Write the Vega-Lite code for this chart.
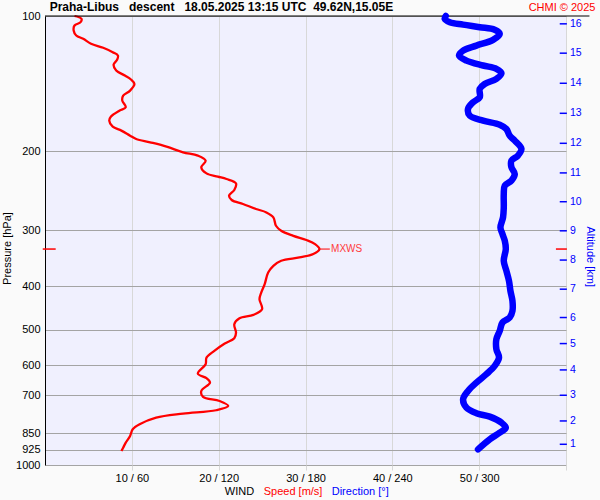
{
  "$schema": "https://vega.github.io/schema/vega-lite/v6.json",
  "width": 521,
  "height": 449,
  "autosize": {"type": "none"},
  "padding": {"left": 45, "top": 16, "right": 34, "bottom": 35},
  "background": "#fafafa",
  "config": {
    "view": {"fill": "#f0f0fe", "stroke": null},
    "font": "Liberation Sans",
    "text": {"font": "Liberation Sans"}
  },
  "datasets": {
    "speed": [
      {"p":100.0,"s":3.4},{"p":101.4,"s":4.2},{"p":103.2,"s":4.1},{"p":105.0,"s":3.4},{"p":107.7,"s":3.3},{"p":110.5,"s":3.6},{"p":112.4,"s":4.4},{"p":115.3,"s":5.3},{"p":117.7,"s":6.7},{"p":120.4,"s":7.8},{"p":122.5,"s":8.4},{"p":125.2,"s":8.3},{"p":128.3,"s":7.9},{"p":132.3,"s":8.2},{"p":135.7,"s":9.2},{"p":138.5,"s":9.9},{"p":141.7,"s":10.3},{"p":146.6,"s":9.8},{"p":150.4,"s":9.0},{"p":154.3,"s":8.9},{"p":159.7,"s":9.3},{"p":162.4,"s":8.6},{"p":167.5,"s":7.6},{"p":171.0,"s":7.4},{"p":176.4,"s":7.8},{"p":180.0,"s":8.8},{"p":184.7,"s":9.8},{"p":187.9,"s":10.5},{"p":191.1,"s":12.1},{"p":195.4,"s":14.0},{"p":201.2,"s":15.9},{"p":204.6,"s":17.6},{"p":210.0,"s":18.5},{"p":217.3,"s":18.0},{"p":224.1,"s":18.6},{"p":227.9,"s":19.9},{"p":230.7,"s":20.9},{"p":236.0,"s":22.0},{"p":244.1,"s":21.8},{"p":251.3,"s":21.2},{"p":256.9,"s":21.5},{"p":262.2,"s":22.8},{"p":269.0,"s":24.3},{"p":273.8,"s":25.5},{"p":280.9,"s":26.3},{"p":293.2,"s":26.6},{"p":300.8,"s":27.2},{"p":308.7,"s":28.6},{"p":315.5,"s":30.1},{"p":322.1,"s":31.1},{"p":330.4,"s":31.6},{"p":339.0,"s":30.9},{"p":345.0,"s":29.3},{"p":350.9,"s":27.2},{"p":360.0,"s":26.3},{"p":372.6,"s":25.7},{"p":395.5,"s":25.3},{"p":413.0,"s":24.9},{"p":427.2,"s":24.7},{"p":449.7,"s":25.0},{"p":463.1,"s":24.0},{"p":471.0,"s":22.4},{"p":485.7,"s":21.8},{"p":507.1,"s":22.0},{"p":521.9,"s":21.8},{"p":536.5,"s":20.7},{"p":557.0,"s":19.5},{"p":576.5,"s":18.6},{"p":596.4,"s":18.5},{"p":625.8,"s":17.6},{"p":640.7,"s":18.6},{"p":655.4,"s":19.0},{"p":684.0,"s":18.0},{"p":705.4,"s":18.2},{"p":720.1,"s":20.1},{"p":738.8,"s":21.1},{"p":755.2,"s":19.7},{"p":768.5,"s":15.9},{"p":784.5,"s":12.8},{"p":811.5,"s":10.9},{"p":832.6,"s":10.1},{"p":861.7,"s":9.8},{"p":891.8,"s":9.3},{"p":915.0,"s":9.0},{"p":930.7,"s":8.8}
    ],
    "dir": [
      {"p":100.0,"d":276.9},{"p":101.4,"d":276.2},{"p":103.2,"d":279.7},{"p":104.5,"d":288.9},{"p":105.9,"d":300.4},{"p":107.3,"d":310.7},{"p":109.6,"d":314.2},{"p":113.0,"d":309.6},{"p":116.4,"d":298.1},{"p":119.4,"d":288.9},{"p":122.5,"d":286.1},{"p":125.7,"d":291.2},{"p":128.9,"d":302.7},{"p":131.1,"d":311.9},{"p":134.1,"d":315.4},{"p":138.0,"d":311.9},{"p":141.7,"d":303.8},{"p":145.3,"d":300.4},{"p":151.7,"d":300.4},{"p":155.7,"d":295.7},{"p":161.0,"d":292.3},{"p":166.7,"d":293.5},{"p":171.0,"d":302.7},{"p":174.6,"d":314.2},{"p":178.5,"d":318.8},{"p":184.7,"d":321.1},{"p":189.5,"d":324.6},{"p":197.7,"d":329.2},{"p":204.6,"d":326.8},{"p":210.0,"d":322.3},{"p":217.3,"d":322.3},{"p":224.8,"d":324.6},{"p":232.6,"d":322.3},{"p":238.7,"d":317.7},{"p":249.2,"d":317.0},{"p":266.8,"d":317.0},{"p":280.9,"d":316.5},{"p":295.8,"d":314.7},{"p":306.0,"d":316.1},{"p":316.7,"d":317.7},{"p":330.4,"d":318.4},{"p":350.9,"d":317.0},{"p":369.4,"d":318.8},{"p":388.9,"d":320.6},{"p":409.4,"d":321.6},{"p":430.9,"d":323.0},{"p":453.6,"d":323.0},{"p":469.5,"d":321.1},{"p":481.7,"d":316.1},{"p":502.7,"d":314.2},{"p":524.6,"d":311.9},{"p":552.1,"d":311.9},{"p":576.5,"d":313.7},{"p":601.6,"d":310.7},{"p":627.7,"d":305.0},{"p":655.4,"d":298.1},{"p":684.0,"d":292.3},{"p":713.8,"d":288.9},{"p":745.3,"d":291.2},{"p":766.9,"d":298.1},{"p":780.4,"d":307.3},{"p":804.9,"d":315.4},{"p":825.8,"d":318.4},{"p":847.3,"d":314.2},{"p":876.5,"d":307.3},{"p":922.6,"d":299.2}
    ],
    "km": [
      {"km":16,"p":104.1},{"km":15,"p":121.0},{"km":14,"p":141.2},{"km":13,"p":164.7},{"km":12,"p":192.1},{"km":11,"p":223.6},{"km":10,"p":259.2},{"km":9,"p":300.9},{"km":8,"p":349.6},{"km":7,"p":405.9},{"km":6,"p":469.4},{"km":5,"p":536.5},{"km":4,"p":614.1},{"km":3,"p":699.3},{"km":2,"p":797.8},{"km":1,"p":899.2}
    ],
    "mx": [{"p":330.4,"s":31.6,"label":"MXWS"}]
  },
  "layer": [
    {
      "layer": [
        {
          "data": {"name": "speed"},
          "mark": {"type": "line", "color": "#ff0000", "strokeWidth": 2.3, "interpolate": "catmull-rom"},
          "encoding": {
            "x": {"field": "s", "type": "quantitative",
              "scale": {"domain": [0, 60], "nice": false, "zero": false},
              "axis": {"values": [10,20,30,40,50,60], "labelExpr": "datum.value < 60 ? datum.value + ' / ' + (datum.value * 6) : ''",
                "grid": true, "gridColor": "#d8d8d8", "domain": false, "ticks": true, "tickColor": "#d8d8d8", "tickSize": 5,
                "labelPadding": 2, "labelFontSize": 11, "labelColor": "black", "labelFont": "Liberation Sans", "title": null, "labelFlush": false}},
            "y": {"field": "p", "type": "quantitative",
              "scale": {"type": "log", "domain": [100, 1000], "reverse": true, "nice": false, "zero": false},
              "axis": {"values": [100,200,300,400,500,600,700,850,925,1000], "format": "d",
                "grid": true, "gridColor": "#a4a4a4", "domainColor": "black", "ticks": false, "labelPadding": 5,
                "labelFontSize": 11, "labelColor": "black", "labelFont": "Liberation Sans", "labelOverlap": false, "labelFlush": false,
                "title": "Pressure [hPa]", "titleFontSize": 11, "titleFontWeight": "normal", "titleFont": "Liberation Sans", "titleColor": "black",
                "titleX": -38, "titleY": 232, "titleAngle": 270, "titleAlign": "center", "titleBaseline": "middle"}},
            "order": {"field": "p", "type": "quantitative"}
          }
        },
        {
          "data": {"name": "km"},
          "mark": {"type": "rule", "color": "#0000ff", "strokeWidth": 1.5},
          "encoding": {"x": {"datum": 59.28}, "x2": {"datum": 60.1}, "y": {"field": "p", "type": "quantitative"}}
        },
        {
          "data": {"name": "km"},
          "mark": {"type": "text", "color": "#0000ff", "fontSize": 10.5, "align": "left", "baseline": "middle", "dx": 4},
          "encoding": {"x": {"datum": 60}, "y": {"field": "p", "type": "quantitative"}, "text": {"field": "km", "type": "quantitative"}}
        },
        {
          "data": {"name": "mx"},
          "mark": {"type": "rule", "color": "#ff0000", "strokeWidth": 1.5},
          "encoding": {"x": {"datum": -0.26}, "x2": {"datum": 1.23}, "y": {"field": "p", "type": "quantitative"}}
        },
        {
          "data": {"name": "mx"},
          "mark": {"type": "rule", "color": "#ff0000", "strokeWidth": 1.5},
          "encoding": {"x": {"datum": 58.84}, "x2": {"datum": 60.1}, "y": {"field": "p", "type": "quantitative"}}
        },
        {
          "data": {"name": "mx"},
          "mark": {"type": "rule", "color": "#ff0000", "strokeWidth": 1},
          "encoding": {"x": {"field": "s", "type": "quantitative"}, "x2": {"datum": 32.8}, "y": {"field": "p", "type": "quantitative"}}
        },
        {
          "data": {"name": "mx"},
          "mark": {"type": "text", "color": "#ff3b3b", "fontSize": 10, "align": "left", "baseline": "middle"},
          "encoding": {"x": {"datum": 32.95}, "y": {"field": "p", "type": "quantitative"}, "text": {"field": "label"}}
        },
        {
          "data": {"values": [{}]},
          "mark": {"type": "rule", "color": "black", "strokeWidth": 1.2},
          "encoding": {"x": {"datum": 0}, "x2": {"datum": 62.7}, "y": {"datum": 100}}
        },
        {
          "data": {"values": [{}]},
          "mark": {"type": "text", "text": "Praha-Libus\u00a0\u00a0\u00a0descent\u00a0\u00a0\u00a018.05.2025 13:15 UTC\u00a0\u00a049.62N,15.05E", "fontSize": 12, "fontWeight": "bold", "color": "black", "align": "left", "baseline": "alphabetic"},
          "encoding": {"x": {"datum": 0.54}, "y": {"datum": 97.5}}
        },
        {
          "data": {"values": [{}]},
          "mark": {"type": "text", "text": "CHMI © 2025", "fontSize": 11, "color": "#ff0000", "align": "right", "baseline": "alphabetic"},
          "encoding": {"x": {"datum": 63.39}, "y": {"datum": 97.5}}
        },
        {
          "data": {"values": [{}]},
          "mark": {"type": "text", "text": "WIND", "fontSize": 11, "color": "black", "align": "left", "baseline": "middle"},
          "encoding": {"x": {"datum": 20.7}, "y": {"datum": 1148.6}}
        },
        {
          "data": {"values": [{}]},
          "mark": {"type": "text", "text": "Speed [m/s]", "fontSize": 11, "color": "#ff0000", "align": "left", "baseline": "middle"},
          "encoding": {"x": {"datum": 25.19}, "y": {"datum": 1148.6}}
        },
        {
          "data": {"values": [{}]},
          "mark": {"type": "text", "text": "Direction [°]", "fontSize": 11, "color": "#0000ff", "align": "left", "baseline": "middle"},
          "encoding": {"x": {"datum": 33.02}, "y": {"datum": 1148.6}}
        },
        {
          "data": {"values": [{}]},
          "mark": {"type": "text", "text": "Altitude [km]", "fontSize": 11, "color": "#0000ff", "align": "center", "baseline": "middle", "angle": 90},
          "encoding": {"x": {"datum": 62.73}, "y": {"datum": 343.8}}
        }
      ]
    },
    {
      "data": {"name": "dir"},
      "mark": {"type": "line", "color": "#0000ff", "strokeWidth": 6.5, "strokeCap": "round", "strokeJoin": "round", "interpolate": "catmull-rom"},
      "encoding": {
        "x": {"field": "d", "type": "quantitative", "scale": {"domain": [0, 360], "nice": false, "zero": false}, "axis": null},
        "y": {"field": "p", "type": "quantitative"},
        "order": {"field": "p", "type": "quantitative"}
      }
    }
  ],
  "resolve": {"scale": {"x": "independent"}}
}
